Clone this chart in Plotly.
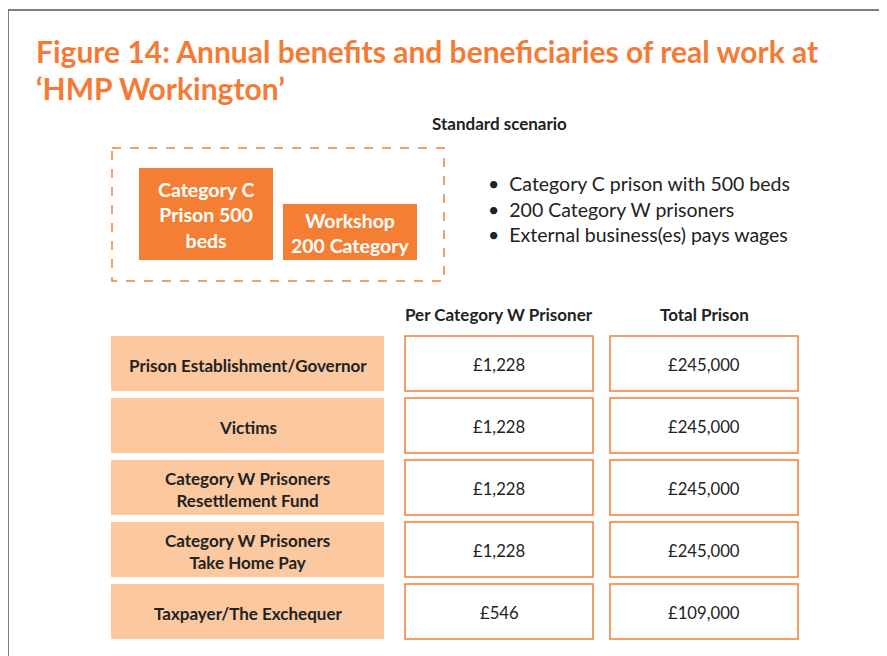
import plotly.graph_objects as go

# ---- data ----
title_lines = ["Figure 14: Annual benefits and beneficiaries of real work at", "‘HMP Workington’"]
scenario_title = "Standard scenario"
scenario_boxes = ["Category C<br>Prison 500<br>beds", "Workshop<br>200 Category"]
bullets = ["Category C prison with 500 beds", "200 Category W prisoners", "External business(es) pays wages"]
col_headers = ["Per Category W Prisoner", "Total Prison"]
row_labels = ["Prison Establishment/Governor", "Victims",
              "Category W Prisoners<br>Resettlement Fund",
              "Category W Prisoners<br>Take Home Pay", "Taxpayer/The Exchequer"]
per_prisoner = ["£1,228", "£1,228", "£1,228", "£1,228", "£546"]
total_prison = ["£245,000", "£245,000", "£245,000", "£245,000", "£109,000"]

# ---- style ----
ORANGE = "#F47F34"
TITLE_ORANGE = "#F47B35"
PEACH = "#FBC8A0"
DARK = "#222222"
FONT = "Lato, 'Open Sans', sans-serif"

W, H = 887, 656
OFF = 8  # page body margin
fig = go.Figure()
shapes = []
ann = []

# page frame
shapes.append(dict(type="line", x0=8, x1=W, y0=10, y1=10, line=dict(color="#555555", width=1.5)))
shapes.append(dict(type="line", x0=8, x1=8, y0=10, y1=H, line=dict(color="#555555", width=1.5)))

# title
for i, t in enumerate(title_lines):
    ann.append(dict(x=34, y=51 + i * 37, text=f"<b>{t}</b>", xanchor="left", yanchor="middle",
                    showarrow=False, font=dict(family=FONT, size=30, color=TITLE_ORANGE)))

ann.append(dict(x=499, y=123, text=f"<b>{scenario_title}</b>", showarrow=False,
                font=dict(family=FONT, size=17, color=DARK)))

# dashed scenario frame
shapes.append(dict(type="rect", x0=112, x1=444, y0=148, y1=281,
                   line=dict(color=ORANGE, width=1.5, dash="dash")))
box_geo = [(139, 273, 168, 260), (283, 417, 204, 260)]
for (x0, x1, y0, y1), txt in zip(box_geo, scenario_boxes):
    shapes.append(dict(type="rect", x0=x0, x1=x1, y0=y0, y1=y1, fillcolor=ORANGE, line=dict(width=0)))
    ann.append(dict(x=(x0 + x1) / 2, y=(y0 + y1) / 2 + 1, text=f"<b>{txt}</b>", showarrow=False,
                    font=dict(family=FONT, size=19.5, color="white")))

# bullets
for i, b in enumerate(bullets):
    ann.append(dict(x=486, y=183.5 + i * 25.5, text="•  " + b, xanchor="left", showarrow=False,
                    font=dict(family=FONT, size=19.5, color=DARK)))

# column headers
col_x = [(405, 593), (610, 798)]
for (x0, x1), h in zip(col_x, col_headers):
    ann.append(dict(x=(x0 + x1) / 2, y=314, text=f"<b>{h}</b>", showarrow=False,
                    font=dict(family=FONT, size=17, color=DARK)))

# rows
row_top, row_h, row_step = 336, 55, 62
for i, (lab, v1, v2) in enumerate(zip(row_labels, per_prisoner, total_prison)):
    y0 = row_top + i * row_step
    y1 = y0 + row_h
    yc = (y0 + y1) / 2 + 1.5
    shapes.append(dict(type="rect", x0=111, x1=384, y0=y0, y1=y1, fillcolor=PEACH, line=dict(width=0)))
    ann.append(dict(x=247.5, y=yc, text=f"<b>{lab}</b>", showarrow=False,
                    font=dict(family=FONT, size=17, color=DARK)))
    for (x0, x1), v in zip(col_x, [v1, v2]):
        shapes.append(dict(type="rect", x0=x0, x1=x1, y0=y0, y1=y1, fillcolor="white",
                           line=dict(color=ORANGE, width=1.5)))
        ann.append(dict(x=(x0 + x1) / 2, y=yc, text=v, showarrow=False,
                        font=dict(family=FONT, size=16.7, color=DARK)))

fig.update_layout(
    width=W - OFF, height=H - OFF, margin=dict(l=0, r=0, t=0, b=0),
    paper_bgcolor="white", plot_bgcolor="white",
    xaxis=dict(range=[OFF, W], visible=False, fixedrange=True),
    yaxis=dict(range=[H, OFF], visible=False, fixedrange=True),
    shapes=shapes, annotations=ann, showlegend=False,
)
fig.write_html("out.html")
